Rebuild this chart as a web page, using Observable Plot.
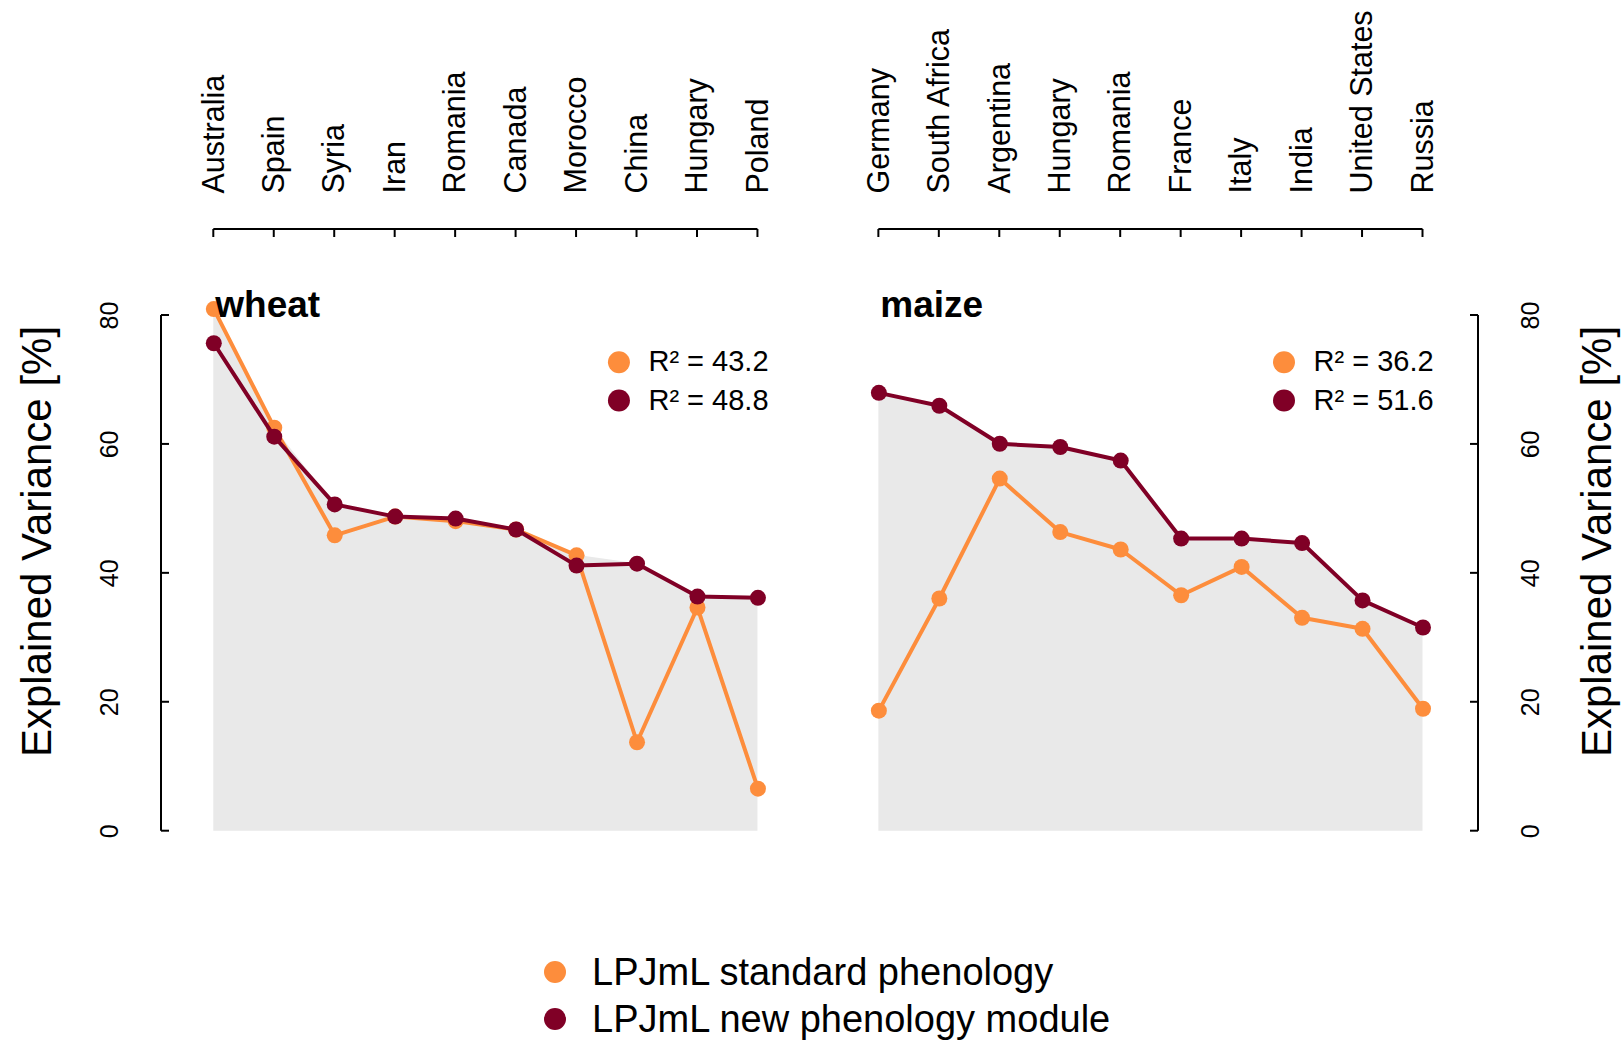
<!DOCTYPE html>
<html>
<head>
<meta charset="utf-8">
<script src="https://cdn.jsdelivr.net/npm/d3@7"></script>
<script src="https://cdn.jsdelivr.net/npm/@observablehq/plot@0.6"></script>
<style>
  html, body { margin: 0; padding: 0; background: #fff; overflow: hidden; }
  #figure {
    position: relative; width: 1621px; height: 1040px;
    font-family: "Liberation Sans", Arial, Helvetica, sans-serif; color: #000;
  }
  #legend { position: absolute; left: 544px; top: 948.5px; }
  #legend .row { display: flex; align-items: center; height: 47px; line-height: 47px; font-size: 38px; white-space: nowrap; }
  #legend .swatch { width: 22px; height: 22px; border-radius: 50%; margin-right: 26px; flex: none; }
</style>
</head>
<body>
<div id="figure"><div id="legend"></div></div>
<script>
// Explained variance of yield anomalies per country, two LPJmL phenology variants
const wheatCountries = ["Australia", "Spain", "Syria", "Iran", "Romania", "Canada", "Morocco", "China", "Hungary", "Poland"];
const wheatStandard  = [81.0, 62.6, 45.9, 48.8, 48.1, 46.8, 42.8, 13.8, 34.7, 6.6];
const wheatNew       = [75.7, 61.2, 50.7, 48.8, 48.5, 46.8, 41.2, 41.5, 36.4, 36.2];

const maizeCountries = ["Germany", "South Africa", "Argentina", "Hungary", "Romania", "France", "Italy", "India", "United States", "Russia"];
const maizeStandard  = [18.7, 36.1, 54.7, 46.4, 43.7, 36.6, 41.0, 33.1, 31.4, 19.0];
const maizeNew       = [68.0, 66.0, 60.1, 59.6, 57.5, 45.4, 45.4, 44.7, 35.8, 31.6];

const crops = ["wheat", "maize"];
const r2Standard = [43.2, 36.2];
const r2New      = [48.8, 51.6];

const seriesNames  = ["LPJmL standard phenology", "LPJmL new phenology module"];
const seriesColors = ["#fd8d3c", "#800026"];
const yTicks = [0, 20, 40, 60, 80];
const yTitle = "Explained Variance [%]";

// Layout
const width = 1621, height = 900;
const marginTop = 229, marginLeft = 161, marginRight = 143, marginBottom = 69;
const tickLength = 8;
const fontFamily = '"Liberation Sans", Arial, Helvetica, sans-serif';

const panels = [
  {crop: crops[0], countries: wheatCountries, values: [wheatStandard, wheatNew], r2: [r2Standard[0], r2New[0]]},
  {crop: crops[1], countries: maizeCountries, values: [maizeStandard, maizeNew], r2: [r2Standard[1], r2New[1]]}
];

const keyOf = (crop, country) => `${crop}|${country}`;
const gapKey = "|";
const panelKeys = panels.map(p => p.countries.map(c => keyOf(p.crop, c)));
const xDomain = [...panelKeys[0], gapKey, ...panelKeys[1]];
const tickKeys = panelKeys.flat();

// Long table: one row per crop, country and phenology variant
const points = panels.flatMap(p =>
  p.values.flatMap((vals, s) =>
    vals.map((v, i) => ({crop: p.crop, key: keyOf(p.crop, p.countries[i]), series: s, value: v}))));

// Shaded background follows the upper envelope of both variants
const envelope = panels.flatMap(p =>
  p.countries.map((c, i) => ({crop: p.crop, key: keyOf(p.crop, c), top: Math.max(...p.values.map(v => v[i]))})));

const marks = [
  Plot.areaY(envelope, {x: "key", y1: 0, y2: "top", z: "crop", fill: "#e9e9e9"})
];

seriesColors.forEach((color, s) => {
  const data = points.filter(d => d.series === s);
  marks.push(Plot.line(data, {x: "key", y: "value", z: "crop", stroke: color, strokeWidth: 4}));
  marks.push(Plot.dot(data, {x: "key", y: "value", r: 8, fill: color}));
});

panels.forEach((p, pi) => {
  const first = panelKeys[pi][0];
  const last = panelKeys[pi].at(-1);
  // panel title
  marks.push(Plot.text([p.crop], {
    x: () => first, frameAnchor: "top", dy: 87, dx: 1.5, text: d => d,
    textAnchor: "start", lineAnchor: "bottom", fontSize: 37, fontWeight: "bold", fill: "black"
  }));
  // R² key in the upper right of each panel
  p.r2.forEach((r, s) => {
    const dy = 132.7 + s * 38.3;
    marks.push(Plot.dot([r], {x: () => last, frameAnchor: "top", dx: -139, dy, r: 11, fill: seriesColors[s]}));
    marks.push(Plot.text([r], {
      x: () => last, frameAnchor: "top", dx: -109.5, dy,
      text: d => `R² = ${d.toFixed(1)}`, textAnchor: "start", lineAnchor: "middle", fontSize: 29, fill: "black"
    }));
  });
});

marks.push(
  Plot.axisX({
    anchor: "top", ticks: tickKeys, tickFormat: k => k.split("|")[1],
    tickSize: 0, tickRotate: -90, tickPadding: 36, fontSize: 30.5, fill: "black", label: null
  }),
  Plot.axisY({
    anchor: "left", ticks: yTicks, tickSize: 0, tickRotate: -90, textAnchor: "middle", lineAnchor: "middle",
    tickPadding: 51.7, fontSize: 25, fill: "black", label: null
  }),
  Plot.axisY({
    anchor: "right", ticks: yTicks, tickSize: 0, tickRotate: -90, textAnchor: "middle", lineAnchor: "middle",
    tickPadding: 52, fontSize: 25, fill: "black", label: null
  }),
  Plot.text([yTitle], {
    frameAnchor: "left", rotate: -90, dx: -111, dy: 11, text: d => d,
    textAnchor: "middle", lineAnchor: "bottom", fontSize: 42, fill: "black"
  }),
  Plot.text([yTitle], {
    frameAnchor: "right", rotate: -90, dx: 132, dy: 11, text: d => d,
    textAnchor: "middle", lineAnchor: "bottom", fontSize: 42, fill: "black"
  })
);

const chart = Plot.plot({
  width, height, marginTop, marginLeft, marginRight, marginBottom,
  x: {type: "point", domain: xDomain, range: [213.3, 1422.5], padding: 0, round: false},
  y: {domain: [yTicks[0], yTicks.at(-1)], range: [830.7, 315]},
  style: {fontFamily, color: "black", background: "white", overflow: "visible"},
  marks
});

// Axis lines with inward-pointing ticks, positioned through the plot's scales
const sx = chart.scale("x"), sy = chart.scale("y");
const g = d3.select(chart).append("g")
  .attr("stroke", "black").attr("stroke-width", 2).attr("fill", "none");

panelKeys.forEach(keys => {
  const xs = keys.map(k => sx.apply(k));
  g.append("line").attr("x1", xs[0]).attr("x2", xs.at(-1)).attr("y1", marginTop).attr("y2", marginTop);
  xs.forEach(x => g.append("line").attr("x1", x).attr("x2", x).attr("y1", marginTop).attr("y2", marginTop + tickLength));
});

[[marginLeft, 1], [width - marginRight, -1]].forEach(([ax, dir]) => {
  g.append("line").attr("x1", ax).attr("x2", ax)
    .attr("y1", sy.apply(yTicks[0])).attr("y2", sy.apply(yTicks.at(-1)));
  yTicks.forEach(t => g.append("line")
    .attr("x1", ax).attr("x2", ax + dir * tickLength)
    .attr("y1", sy.apply(t)).attr("y2", sy.apply(t)));
});

const figure = document.getElementById("figure");
figure.insertBefore(chart, figure.firstChild);

// Series key below the chart
const legend = d3.select("#legend");
seriesNames.forEach((name, i) => {
  const row = legend.append("div").attr("class", "row");
  row.append("span").attr("class", "swatch").style("background", seriesColors[i]);
  row.append("span").text(name);
});
</script>
</body>
</html>
